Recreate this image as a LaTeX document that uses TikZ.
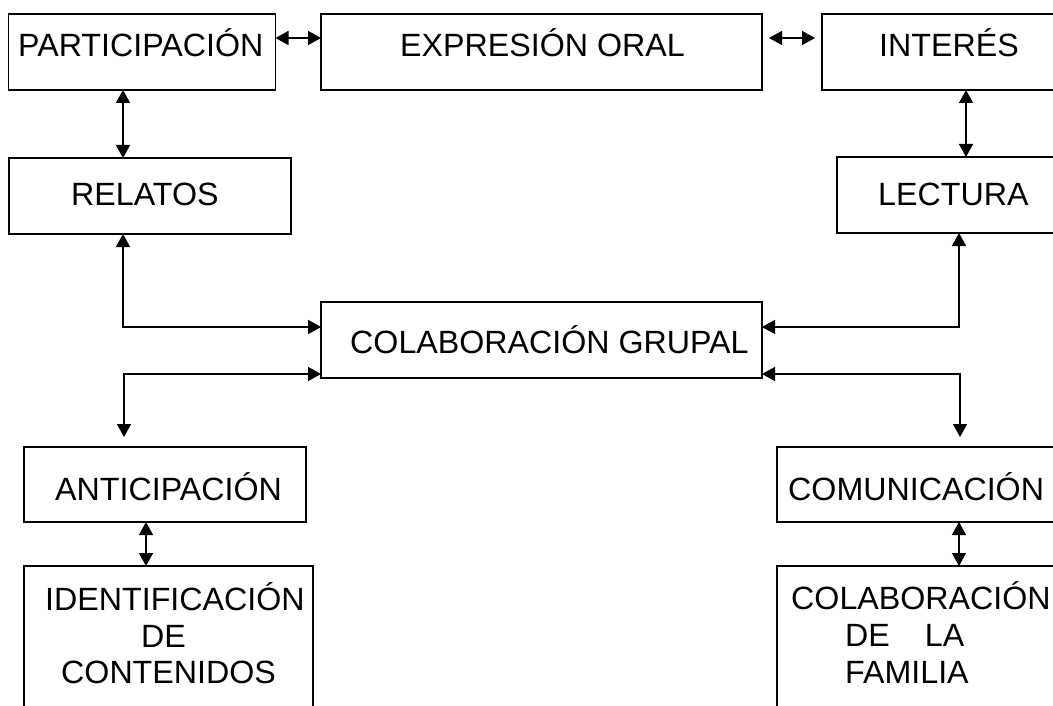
\documentclass[tikz,border=0pt]{standalone}
\usepackage{fontspec}
\setmainfont{Liberation Sans}
\usetikzlibrary{arrows.meta}
\tikzset{
  caja/.style={draw,line width=1.5pt,inner sep=0pt,outer sep=0pt,anchor=north west},
  texto/.style={anchor=base west,inner sep=0pt,font=\fontsize{32.2}{36.5}\selectfont},
  flecha/.style={line width=1.5pt,{Triangle[length=13pt,width=14pt]}-{Triangle[length=13pt,width=14pt]}}
}
\begin{document}
\begin{tikzpicture}[x=1pt,y=-1pt]
   \useasboundingbox (0,0) rectangle (1053,706);
   \clip (0,0) rectangle (1053,706);
   \node[caja,minimum width=267pt,minimum height=76pt] (part) at (8.5,14) {};
   \node[caja,minimum width=441pt,minimum height=76pt] (expr) at (321,14) {};
   \node[caja,minimum width=260pt,minimum height=76pt] (inter) at (822,14) {};
   \node[caja,minimum width=282pt,minimum height=76pt] (relatos) at (9,158) {};
   \node[caja,minimum width=260pt,minimum height=76pt] (lectura) at (837,157) {};
   \node[caja,minimum width=441pt,minimum height=76pt] (colab) at (321,302) {};
   \node[caja,minimum width=282pt,minimum height=75pt] (antic) at (24,447) {};
   \node[caja,minimum width=300pt,minimum height=75pt] (comun) at (777,447) {};
   \node[caja,minimum width=289pt,minimum height=200pt] (ident) at (24,566) {};
   \node[caja,minimum width=300pt,minimum height=200pt] (famil) at (777,566) {};
   \node[texto] (tpart) at (18,57) {PARTICIPACIÓN};
   \node[texto] (texpr) at (400,57) {EXPRESIÓN ORAL};
   \node[texto] (tinter) at (879,57) {INTERÉS};
   \node[texto] (trelatos) at (71,205) {RELATOS};
   \node[texto] (tlectura) at (878,205) {LECTURA};
   \node[texto] (tcolab) at (350,353) {COLABORACIÓN GRUPAL};
   \node[texto] (tantic) at (55,500) {ANTICIPACIÓN};
   \node[texto] (tcomun) at (788,500) {COMUNICACIÓN};
   \node[texto] (tident1) at (45,610) {IDENTIFICACIÓN};
   \node[texto] (tident2) at (141,647) {DE};
   \node[texto] (tident3) at (61,683) {CONTENIDOS};
   \node[texto] (tfamil1) at (791,609) {COLABORACIÓN};
   \node[texto] (tfamil2) at (845,646) {DE\hspace{35pt}LA};
   \node[texto] (tfamil3) at (845,683) {FAMILIA};
   \draw[flecha] ([yshift=14pt]part.east) -- ([yshift=14pt]expr.west);
   \draw[flecha,shorten <=7pt,shorten >=7pt] ([yshift=14pt]expr.east) -- ([yshift=14pt]inter.west);
   \draw[flecha] ([xshift=114.5pt]part.south west) -- ([xshift=114pt]relatos.north west);
   \draw[flecha] ([xshift=144pt]inter.south west) -- ([xshift=129pt]lectura.north west);
   \draw[flecha] ([xshift=114pt]relatos.south west) |- ([yshift=13pt]colab.west);
   \draw[flecha] ([xshift=122pt]lectura.south west) |- ([yshift=13pt]colab.east);
   \draw[flecha,shorten >=10pt] ([yshift=-34pt]colab.west) -| ([xshift=100pt]antic.north west);
   \draw[flecha,shorten >=10pt] ([yshift=-34pt]colab.east) -| ([xshift=183pt]comun.north west);
   \draw[flecha] ([xshift=122pt]antic.south west) -- ([xshift=122pt]ident.north west);
   \draw[flecha] ([xshift=182pt]comun.south west) -- ([xshift=182pt]famil.north west);
\end{tikzpicture}
\end{document}
